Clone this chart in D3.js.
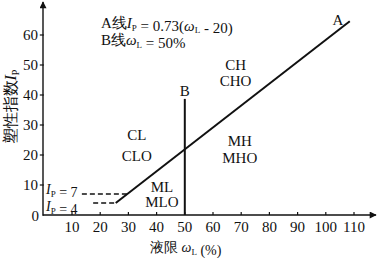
<!DOCTYPE html>
<html>
<head>
<meta charset="utf-8">
<script src="https://cdn.jsdelivr.net/npm/d3@7"></script>
<style>
body{margin:0;background:#fff;}
text{font-family:"Liberation Serif","Times New Roman",serif;fill:#111;}
</style>
</head>
<body>
<svg id="chart" width="379" height="258"></svg>
<script>
// data
var xTicks=[10,20,30,40,50,60,70,80,90,100,110];
var yTicks=[0,10,20,30,40,50,60];
var lineA=[[25.5,4],[108.5,0.73*(108.5-20)]];   // A line Ip=0.73(wL-20), drawn from Ip=4
var lineB=[[50,0],[50,38.7]];                    // B line wL=50
var dashIp7=[[13.5,7],[29.6,7]];
var dashIp4=[[17.5,4],[25.5,4]];
var zoneNames=[["CH","CHO"],["CL","CLO"],["ML","MLO"],["MH","MHO"]];
var zoneAnchors=[[68,48.3],[33,25],[41.9,7.7],[69.5,23]];   //data coords of first text line

var svg=d3.select("#chart");
var x=d3.scaleLinear().domain([0,110]).range([43.8,354]);
var y=d3.scaleLinear().domain([0,60]).range([215,35]);

var defs=svg.append("defs");
defs.append("marker").attr("id","arr").attr("viewBox","0 0 10 10")
	.attr("refX",9).attr("refY",5).attr("markerWidth",9).attr("markerHeight",7)
	.attr("markerUnits","userSpaceOnUse").attr("orient","auto")
	.append("path").attr("d","M0,0 L10,5 L0,10 z").attr("fill","#111");

//axes
svg.append("line").attr("x1",x(0)-1).attr("x2",376).attr("y1",y(0)).attr("y2",y(0))
	.attr("stroke","#111").attr("stroke-width",1.4).attr("marker-end","url(#arr)");
svg.append("line").attr("x1",x(0)-0.8).attr("x2",x(0)-0.8).attr("y1",y(0)+0.7).attr("y2",2)
	.attr("stroke","#111").attr("stroke-width",1.4).attr("marker-end","url(#arr)");

//x ticks (inward) and labels
svg.selectAll(".xt").data(xTicks).enter().append("line")
	.attr("x1",function(d){return x(d);}).attr("x2",function(d){return x(d);})
	.attr("y1",y(0)).attr("y2",y(0)-3).attr("stroke","#111").attr("stroke-width",1.2);
svg.selectAll(".xl").data(xTicks).enter().append("text")
	.attr("x",function(d){return x(d);}).attr("y",232)
	.attr("text-anchor","middle").attr("font-size",15).text(function(d){return d;});

//y ticks (outward) and labels
svg.selectAll(".yt").data(yTicks.slice(1)).enter().append("line")
	.attr("x1",x(0)-4).attr("x2",x(0)).attr("y1",function(d){return y(d);}).attr("y2",function(d){return y(d);})
	.attr("stroke","#111").attr("stroke-width",1.2);
svg.selectAll(".yl").data(yTicks).enter().append("text")
	.attr("x",function(d){return d===0?39:38;}).attr("y",function(d){return y(d)+(d===0?6:5);})
	.attr("text-anchor","end").attr("font-size",15).text(function(d){return d;});

var line=d3.line().x(function(d){return x(d[0]);}).y(function(d){return y(d[1]);});

svg.append("path").attr("d",line(lineA)).attr("stroke","#111").attr("stroke-width",2).attr("fill","none");
svg.append("path").attr("d",line(lineB)).attr("stroke","#111").attr("stroke-width",2).attr("fill","none");
[dashIp7,dashIp4].forEach(function(seg){
	svg.append("path").attr("d",line(seg)).attr("stroke","#111").attr("stroke-width",1.6)
		.attr("stroke-dasharray","5,3").attr("fill","none");
});

//line names
svg.append("text").attr("x",338).attr("y",25).attr("text-anchor","middle").attr("font-size",15).text("A");
svg.append("text").attr("x",x(50)).attr("y",96).attr("text-anchor","middle").attr("font-size",15).text("B");

//zone labels
zoneNames.forEach(function(n,i){
	var a=zoneAnchors[i];
	var t=svg.append("text").attr("text-anchor","middle").attr("font-size",15);
	t.append("tspan").attr("x",x(a[0])).attr("y",y(a[1])).text(n[0]);
	t.append("tspan").attr("x",x(a[0])).attr("dy",i==2?15:(i==0?16:(i==1?21:17))).text(n[1]);
});

//helpers for subscripted symbols
function sym(t,base,sub,italic,subSize){
	t.append("tspan").attr("font-style",italic?"italic":null).text(base);
	t.append("tspan").attr("font-size",subSize||9).attr("dy",2.5).text(sub);
	t.append("tspan").attr("dy",-2.5).text("");
}

//legend formulas
var t1=svg.append("text").attr("x",101).attr("y",28).attr("font-size",15);
t1.append("tspan").text("A线");
sym(t1,"I","P",true);
t1.append("tspan").text(" = 0.73(");
sym(t1,"ω","L",true);
t1.append("tspan").text(" - 20)");

var t2=svg.append("text").attr("x",101).attr("y",45).attr("font-size",15);
t2.append("tspan").text("B线");
sym(t2,"ω","L",true);
t2.append("tspan").text(" = 50%");

//Ip=7 / Ip=4 labels
var t3=svg.append("text").attr("x",46).attr("y",194).attr("font-size",14);
sym(t3,"I","P",true);
t3.append("tspan").text(" = 7");
var t4=svg.append("text").attr("x",46).attr("y",211).attr("font-size",14);
sym(t4,"I","P",true);
t4.append("tspan").text(" = 4");

//axis titles
var xt=svg.append("text").attr("x",150).attr("y",252).attr("font-size",14);
xt.append("tspan").text("液限 ");
sym(xt,"ω","L",true);
xt.append("tspan").text(" (%)");

var yt=svg.append("text").attr("transform","translate(16,107) rotate(-90)")
	.attr("text-anchor","middle").attr("font-size",16);
yt.append("tspan").text("塑性指数");
sym(yt,"I","P",true,10);
</script>
</body>
</html>
